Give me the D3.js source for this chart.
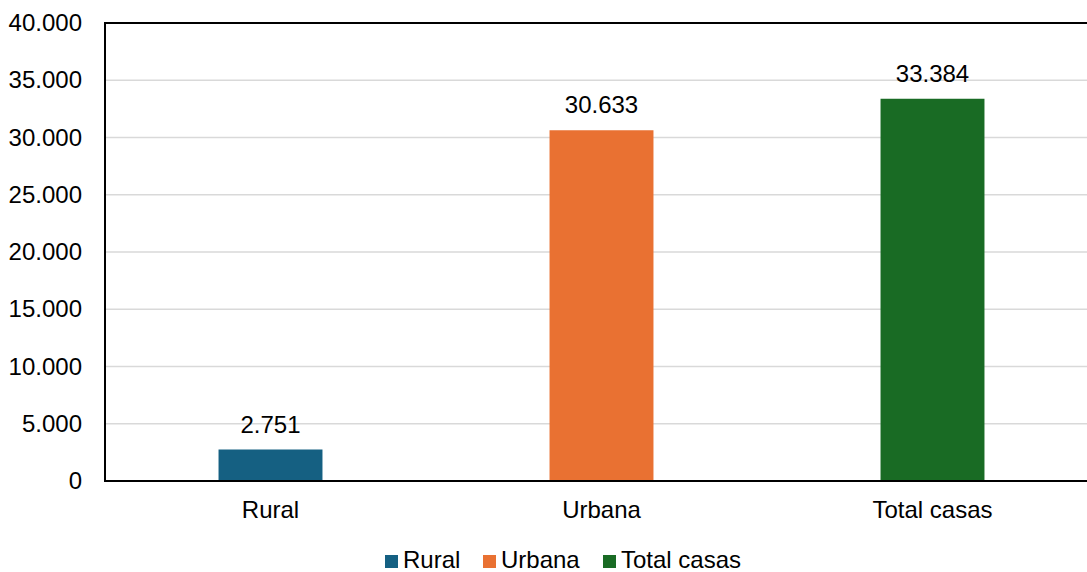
<!DOCTYPE html>
<html>
<head>
<meta charset="utf-8">
<script src="https://cdn.jsdelivr.net/npm/d3@7"></script>
<style>
  body { margin: 0; background: #fff; }
  svg { display: block; font-family: "Liberation Sans", Arial, sans-serif; }
</style>
</head>
<body>
<div class="chart"></div>
<script>
var categories = ["Rural", "Urbana", "Total casas"];
var values = [2751, 30633, 33384];
var colors = ["#156082", "#E97132", "#196B24"];
var yTicks = [0, 5000, 10000, 15000, 20000, 25000, 30000, 35000, 40000];

var width = 1087, height = 572;
var plotLeft = 105, plotRight = 1098, plotTop = 23, plotBottom = 481;

var svg = d3.select(".chart")
    .append("svg")
    .attr("width", width)
    .attr("height", height)

var fmt = function (v) {
    return d3.format(",")(v).replace(/,/g, ".")
}

var x = d3.scaleBand()
    .domain(categories)
    .range([plotLeft, plotRight])
    .padding(0)

var y = d3.scaleLinear()
    .domain([0, 40000])
    .range([plotBottom, plotTop])

var barW = x.bandwidth() * 0.314

// gridlines
svg.selectAll(".grid")
    .data(yTicks.slice(1, -1))
    .enter()
    .append("line")
    .attr("x1", plotLeft)
    .attr("x2", width)
    .attr("y1", function (d) { return y(d) })
    .attr("y2", function (d) { return y(d) })
    .style("stroke", "#d9d9d9")
    .style("stroke-width", 1.5)

// tick labels
svg.selectAll(".ytick")
    .data(yTicks)
    .enter()
    .append("text")
    .attr("x", 82)
    .attr("y", function (d) { return y(d) + 8 })
    .attr("text-anchor", "end")
    .text(function (d) { return fmt(d) })
    .style("font-size", "24px")
    .attr("fill", "#000")

// bars
svg.selectAll(".bar")
    .data(values)
    .enter()
    .append("rect")
    .attr("x", function (d, i) { return x(categories[i]) + x.bandwidth() / 2 - barW / 2 })
    .attr("y", function (d) { return y(d) })
    .attr("width", barW)
    .attr("height", function (d) { return y(0) - y(d) })
    .attr("fill", function (d, i) { return colors[i] })

// value labels
svg.selectAll(".val")
    .data(values)
    .enter()
    .append("text")
    .attr("x", function (d, i) { return x(categories[i]) + x.bandwidth() / 2 })
    .attr("y", function (d) { return y(d) - 17 })
    .attr("text-anchor", "middle")
    .text(function (d) { return fmt(d) })
    .style("font-size", "24px")
    .attr("fill", "#000")

// category labels
svg.selectAll(".cat")
    .data(categories)
    .enter()
    .append("text")
    .attr("x", function (d) { return x(d) + x.bandwidth() / 2 })
    .attr("y", 518)
    .attr("text-anchor", "middle")
    .text(function (d) { return d })
    .style("font-size", "24px")
    .attr("fill", "#000")

// axes and top border
svg.append("line")
    .attr("x1", plotLeft).attr("y1", plotTop)
    .attr("x2", plotLeft).attr("y2", plotBottom)
    .style("stroke", "#000")
    .style("stroke-width", 2)

svg.append("line")
    .attr("x1", plotLeft - 1).attr("y1", plotBottom)
    .attr("x2", width).attr("y2", plotBottom)
    .style("stroke", "#000")
    .style("stroke-width", 2)

svg.append("line")
    .attr("x1", plotLeft - 1).attr("y1", plotTop)
    .attr("x2", width).attr("y2", plotTop)
    .style("stroke", "#000")
    .style("stroke-width", 2)

// legend
var legendX = [385, 483, 603];
var legend = svg.selectAll(".legend")
    .data(categories)
    .enter()
    .append("g")
    .attr("transform", function (d, i) { return "translate(" + legendX[i] + ",555)" })

legend.append("rect")
    .attr("width", 13)
    .attr("height", 13)
    .attr("fill", function (d, i) { return colors[i] })

legend.append("text")
    .attr("x", 18)
    .attr("y", 13)
    .text(function (d) { return d })
    .style("font-size", "24px")
    .attr("fill", "#000")
</script>
</body>
</html>
